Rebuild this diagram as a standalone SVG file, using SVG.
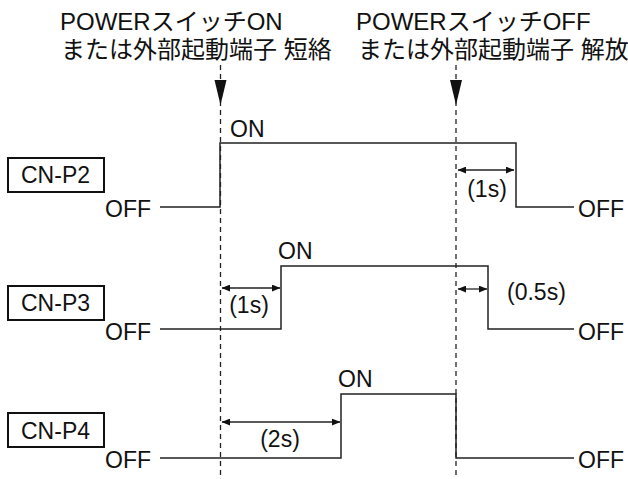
<svg xmlns="http://www.w3.org/2000/svg" width="628" height="479" viewBox="0 0 628 479">
<defs>
<style>
text{font-family:"Liberation Sans","Noto Sans CJK JP",sans-serif;fill:#111}
.t{font-size:24px}
.l{font-size:23px}
.b{font-size:23px}
.w{fill:none;stroke:#222;stroke-width:1.5}
.d{fill:none;stroke:#222;stroke-width:1.3;stroke-dasharray:5 4}
.box{fill:#fff;stroke:#111;stroke-width:2}
.a{fill:none;stroke:#222;stroke-width:1.3;marker-start:url(#ah);marker-end:url(#ah)}
</style>
<marker id="ah" viewBox="0 0 10 8" refX="9.5" refY="4" markerWidth="9" markerHeight="7" markerUnits="userSpaceOnUse" orient="auto-start-reverse">
<path d="M0,0 L10,4 L0,8 Z" fill="#111"/>
</marker>
</defs>
<g id="title-on">
<text class="t" x="60" y="30">POWERスイッチON</text>
<text class="t" x="61" y="58">または外部起動端子 短絡</text>
</g>
<g id="title-off">
<text class="t" x="356" y="30">POWERスイッチOFF</text>
<text class="t" x="358" y="58">または外部起動端子 解放</text>
</g>
<g id="connectors">
<line class="d" x1="220.5" y1="65" x2="220.5" y2="479"/>
<line class="d" x1="456" y1="65" x2="456" y2="479"/>
<path d="M214.5,80 L226.5,80 L220.5,105 Z" fill="#111"/>
<path d="M450,80 L462,80 L456,105 Z" fill="#111"/>
<line class="a" x1="458" y1="170" x2="514" y2="170"/>
<line class="a" x1="222" y1="288" x2="280" y2="288"/>
<line class="a" x1="458" y1="289" x2="487" y2="289"/>
<line class="a" x1="222" y1="422" x2="340" y2="422"/>
</g>
<g id="cn-p2">
<rect class="box" x="8" y="158" width="96" height="34"/>
<text class="b" x="21" y="183">CN-P2</text>
<path class="w" d="M160,207 H220 V143 H516 V207 H574"/>
<text class="l" x="151" y="217" text-anchor="end">OFF</text>
<text class="l" x="578" y="217">OFF</text>
<text class="l" x="230" y="137">ON</text>
<text class="l" x="487" y="197" text-anchor="middle">(1s)</text>
</g>
<g id="cn-p3">
<rect class="box" x="8" y="286" width="96" height="34"/>
<text class="b" x="21" y="311">CN-P3</text>
<path class="w" d="M160,329 H281 V266 H488 V329 H574"/>
<text class="l" x="151" y="340" text-anchor="end">OFF</text>
<text class="l" x="578" y="340">OFF</text>
<text class="l" x="278" y="259">ON</text>
<text class="l" x="249" y="313" text-anchor="middle">(1s)</text>
<text class="l" x="507" y="300">(0.5s)</text>
</g>
<g id="cn-p4">
<rect class="box" x="8" y="413" width="96" height="34"/>
<text class="b" x="21" y="439">CN-P4</text>
<path class="w" d="M160,458 H341 V394 H456 V458 H574"/>
<text class="l" x="151" y="468" text-anchor="end">OFF</text>
<text class="l" x="578" y="468">OFF</text>
<text class="l" x="338" y="387">ON</text>
<text class="l" x="280" y="447" text-anchor="middle">(2s)</text>
</g>
</svg>
